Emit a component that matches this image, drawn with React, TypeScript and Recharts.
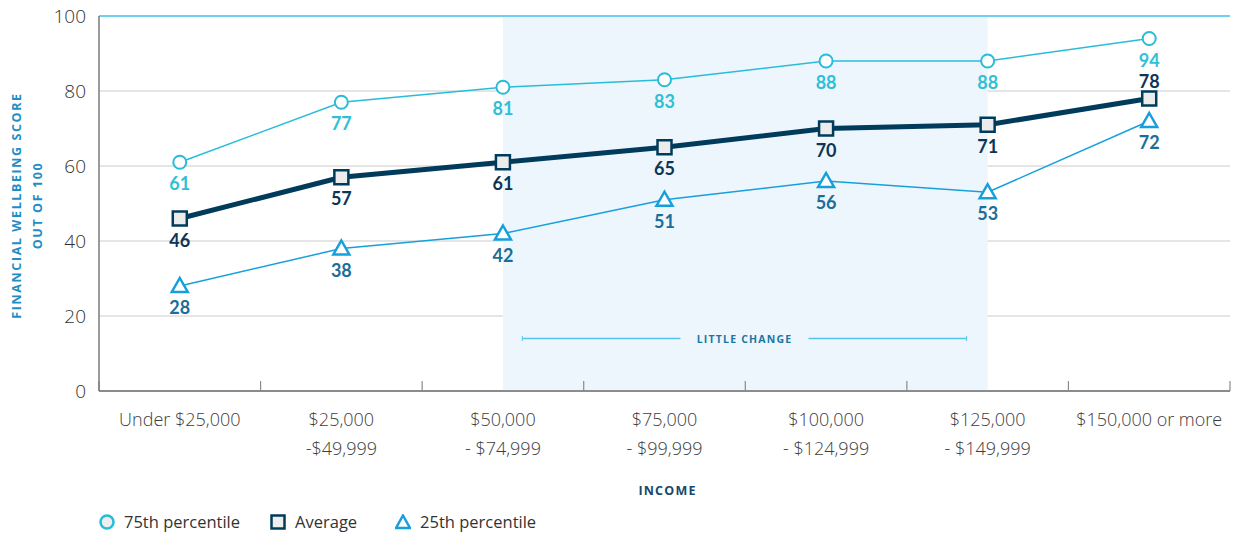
import React from 'react';
import {
  LineChart,
  Line,
  XAxis,
  YAxis,
  CartesianGrid,
  ReferenceArea,
  ReferenceLine,
  LabelList,
  Label,
  Legend,
} from 'recharts';

// Income bands (two-line tick labels split on \n)
const incomeBands = [
  'Under $25,000',
  '$25,000\n-$49,999',
  '$50,000\n- $74,999',
  '$75,000\n- $99,999',
  '$100,000\n- $124,999',
  '$125,000\n- $149,999',
  '$150,000 or more',
];
const p75Scores = [61, 77, 81, 83, 88, 88, 94];
const averageScores = [46, 57, 61, 65, 70, 71, 78];
const p25Scores = [28, 38, 42, 51, 56, 53, 72];
const yTicks = [0, 20, 40, 60, 80, 100];

// category index positions, band edges for axis tick marks
const bandCenters = incomeBands.map((_, i) => i);
const bandEdges = [...incomeBands.map((_, i) => i - 0.5), incomeBands.length - 0.5];
const xDomain = [-0.5, incomeBands.length - 0.5];

// "little change" annotation
const littleChangeRange = [2, 5];
const littleChangeSpan = [2.12, 4.87];
const littleChangeLevel = 14;

const data = incomeBands.map((band, i) => ({
  idx: i,
  band,
  p75: p75Scores[i],
  average: averageScores[i],
  p25: p25Scores[i],
}));

const FONT = '"Open Sans", "Noto Sans", sans-serif';
const LABEL_FONT = 'Lato, "Open Sans", sans-serif';

const C75 = '#27bdd9';
const C75_TEXT = '#2fbfd6';
const CAVG = '#003b5c';
const CAVG_TEXT = '#0c3556';
const C25 = '#15a0dc';
const C25_TEXT = '#1b6e98';
const SHADE = '#eef6fd';

const IncomeTick = ({ x, y, payload }: any) => {
  const lines = (incomeBands[payload.value] || '').split('\n');
  return (
    <text x={x} y={y} textAnchor="middle" fill="#3d3d3d" fontSize={18} fontFamily={FONT} fontWeight={300}>
      {lines.map((l, i) => (
        <tspan key={i} x={x} dy={i === 0 ? 27 : 29}>
          {l}
        </tspan>
      ))}
    </text>
  );
};

const EmptyTick = () => <g />;

const IncomeLabel = ({ viewBox }: any) => (
  <text
    x={viewBox.x + viewBox.width / 2 + 3}
    y={viewBox.y + viewBox.height + 1}
    textAnchor="middle"
    fill="#17476b"
    fontSize={12.5}
    fontWeight={700}
    letterSpacing={1.2}
    fontFamily={FONT}
  >
    INCOME
  </text>
);

const ScoreLabel = ({ viewBox }: any) => {
  const cy = viewBox.y + viewBox.height / 2 + 2;
  const lines = ['FINANCIAL WELLBEING SCORE', 'OUT OF 100'];
  return (
    <g>
      {lines.map((l, i) => {
        const x = 16 + i * 21;
        return (
          <text
            key={l}
            x={x}
            y={cy}
            transform={`rotate(-90, ${x}, ${cy})`}
            textAnchor="middle"
            dominantBaseline="central"
            fill="#1f8ec4"
            fontSize={12.5}
            fontWeight={700}
            letterSpacing={1.6}
            fontFamily={FONT}
          >
            {l}
          </text>
        );
      })}
    </g>
  );
};

const circleDot = (p: any) => (
  <circle key={`c-${p.index}`} cx={p.cx} cy={p.cy} r={6.5} fill="#ffffff" stroke={C75} strokeWidth={2} />
);
const squareDot = (p: any) => (
  <rect key={`s-${p.index}`} x={p.cx - 7} y={p.cy - 7} width={14} height={14} fill="#ececec" stroke={CAVG} strokeWidth={2.5} />
);
const triangleDot = (p: any) => (
  <path
    key={`t-${p.index}`}
    d={`M${p.cx},${p.cy - 8} L${p.cx + 8},${p.cy + 6} L${p.cx - 8},${p.cy + 6} Z`}
    fill="#ffffff"
    stroke={C25}
    strokeWidth={2.5}
    strokeLinejoin="miter"
  />
);

const valueLabel = (color: string, aboveIdx: number[] = []) => (props: any) => {
  const { x, y, value, index } = props;
  const above = aboveIdx.includes(index);
  return (
    <text
      x={x}
      y={y + (above ? -18 : 21)}
      textAnchor="middle"
      dominantBaseline="central"
      fill={color}
      fontSize={18}
      fontWeight={700}
      fontFamily={LABEL_FONT}
    >
      {value}
    </text>
  );
};

const LittleChangeShape = (props: any) => {
  const { x1, y1, x2 } = props;
  const y = y1;
  const mid = (x1 + x2) / 2;
  const gap = 64;
  return (
    <g>
      <line x1={x1} y1={y} x2={mid - gap} y2={y} stroke="#55c4ec" strokeWidth={1.5} />
      <line x1={mid + gap} y1={y} x2={x2} y2={y} stroke="#55c4ec" strokeWidth={1.5} />
      <line x1={x1} y1={y - 2.5} x2={x1} y2={y + 2.5} stroke="#55c4ec" strokeWidth={1} />
      <line x1={x2} y1={y - 2.5} x2={x2} y2={y + 2.5} stroke="#55c4ec" strokeWidth={1} />
      <text
        x={mid}
        y={y}
        textAnchor="middle"
        dominantBaseline="central"
        fill="#1a76a2"
        fontSize={10.5}
        fontWeight={700}
        letterSpacing={1.2}
        fontFamily={FONT}
      >
        LITTLE CHANGE
      </text>
    </g>
  );
};

const legendItems = [
  { name: '75th percentile', icon: 'circle', gap: 30 },
  { name: 'Average', icon: 'square', gap: 38 },
  { name: '25th percentile', icon: 'triangle', gap: 0 },
];

const LegendIcon = ({ icon }: { icon: string }) => (
  <svg width={16} height={16} style={{ display: 'block' }}>
    {icon === 'circle' && <circle cx={8} cy={8} r={6.5} fill="#eeeeee" stroke={C75} strokeWidth={2.5} />}
    {icon === 'square' && <rect x={1.5} y={1.5} width={13} height={13} fill="#eeeeee" stroke={CAVG} strokeWidth={2.5} />}
    {icon === 'triangle' && <path d="M8,1.5 L15,14 L1,14 Z" fill="#ffffff" stroke={C25} strokeWidth={2.5} />}
  </svg>
);

const LegendRow = () => (
  <div
    style={{
      display: 'flex',
      alignItems: 'center',
      height: 40,
      boxSizing: 'border-box',
      paddingTop: 15,
      paddingLeft: 99,
      fontFamily: FONT,
      fontSize: 16.5,
      color: '#333',
    }}
  >
    {legendItems.map((item) => (
      <div key={item.name} style={{ display: 'flex', alignItems: 'center', marginRight: item.gap }}>
        <LegendIcon icon={item.icon} />
        <span style={{ marginLeft: 9 }}>{item.name}</span>
      </div>
    ))}
  </div>
);

export default function App() {
  return (
    <div style={{ width: 1233, height: 534, fontFamily: FONT }}>
      <style>{'body { margin: 0; }'}</style>
      <LineChart width={1233} height={534} data={data} margin={{ top: 16, right: 3, left: 0, bottom: 0 }}>
        <ReferenceArea
          x1={littleChangeRange[0]}
          x2={littleChangeRange[1]}
          fill={SHADE}
          fillOpacity={1}
          stroke="none"
        />
        <CartesianGrid vertical={false} stroke="#dcdcdc" strokeWidth={1.5} />
        <XAxis
          xAxisId="marks"
          dataKey="idx"
          type="number"
          domain={xDomain}
          ticks={bandEdges}
          interval={0}
          allowDataOverflow
          mirror
          height={1}
          tick={<EmptyTick />}
          tickSize={10}
          axisLine={{ stroke: '#6d6d6d', strokeWidth: 1.5 }}
          tickLine={{ stroke: '#8a8a8a', strokeWidth: 1.2 }}
        />
        <XAxis
          dataKey="idx"
          type="number"
          domain={xDomain}
          ticks={bandCenters}
          interval={0}
          allowDataOverflow
          tick={<IncomeTick />}
          tickLine={false}
          axisLine={false}
          height={103}
        >
          <Label content={<IncomeLabel />} />
        </XAxis>
        <YAxis
          domain={[0, 100]}
          ticks={yTicks}
          width={99}
          tickLine={false}
          axisLine={{ stroke: '#7a7a7a', strokeWidth: 1.5 }}
          tick={{ fill: '#333', fontSize: 19, fontFamily: FONT, fontWeight: 300 }}
          tickMargin={7}
        >
          <Label content={<ScoreLabel />} />
        </YAxis>
        <ReferenceLine y={100} stroke="#6fd0f0" strokeWidth={2} />
        <ReferenceLine
          segment={[
            { x: littleChangeSpan[0], y: littleChangeLevel },
            { x: littleChangeSpan[1], y: littleChangeLevel },
          ]}
          shape={<LittleChangeShape />}
        />
        <Legend verticalAlign="bottom" height={40} content={() => <LegendRow />} />
        <Line
          dataKey="p75"
          name="75th percentile"
          stroke={C75}
          strokeWidth={1.5}
          dot={circleDot}
          activeDot={false}
          isAnimationActive={false}
        >
          <LabelList dataKey="p75" content={valueLabel(C75_TEXT)} />
        </Line>
        <Line
          dataKey="p25"
          name="25th percentile"
          stroke={C25}
          strokeWidth={1.5}
          dot={triangleDot}
          activeDot={false}
          isAnimationActive={false}
        >
          <LabelList dataKey="p25" content={valueLabel(C25_TEXT)} />
        </Line>
        <Line
          dataKey="average"
          name="Average"
          stroke={CAVG}
          strokeWidth={5}
          dot={squareDot}
          activeDot={false}
          isAnimationActive={false}
        >
          <LabelList dataKey="average" content={valueLabel(CAVG_TEXT, [6])} />
        </Line>
      </LineChart>
    </div>
  );
}
